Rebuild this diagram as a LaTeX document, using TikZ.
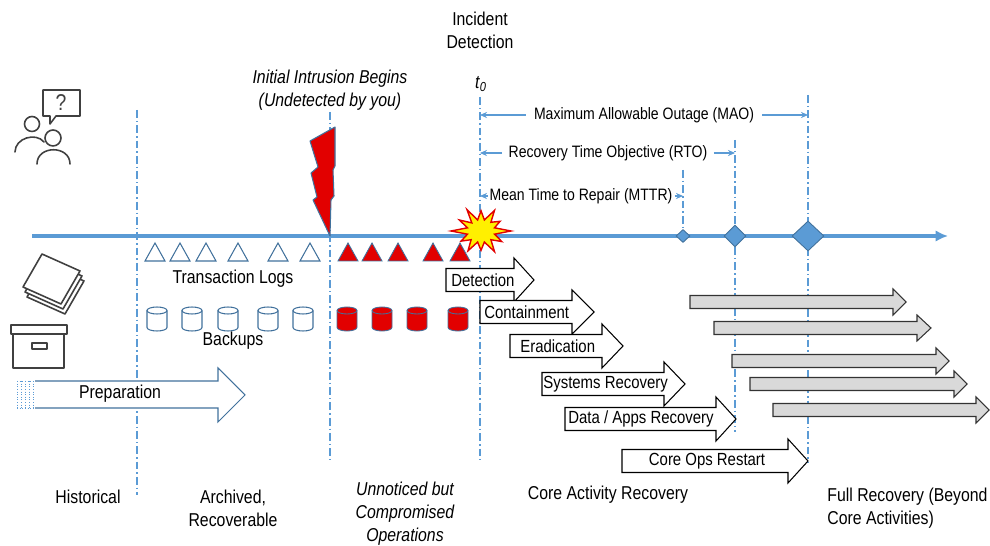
\documentclass[tikz,border=0pt]{standalone}
\usepackage{fontspec}
\setmainfont{Liberation Sans}[FakeStretch=0.85]
\usetikzlibrary{positioning,arrows.meta,shapes.geometric}

\definecolor{lineblue}{RGB}{91,155,213}
\definecolor{darkblue}{RGB}{65,113,156}
\definecolor{alertred}{RGB}{226,0,0}
\definecolor{burstyellow}{RGB}{255,240,0}
\definecolor{laterfill}{RGB}{217,217,217}
\definecolor{icongrey}{RGB}{64,64,64}

\tikzset{
	lbl/.style={font=\fontsize{10.6}{13}\selectfont, align=center, inner sep=0pt},
	spanlbl/.style={font=\fontsize{9.4}{11}\selectfont, inner ysep=0pt, inner xsep=4.5pt},
	steplbl/.style={font=\fontsize{10}{12}\selectfont, inner sep=0pt, anchor=west},
	guide/.style={lineblue, line width=0.7pt, dash pattern=on 4.5pt off 1.7pt on 0.8pt off 1.7pt},
	span/.style={lineblue, line width=0.6pt, -{Stealth[length=4pt,width=3.5pt]}},
	phase/.style={draw=black, fill=white, line width=0.6pt},
	later/.style={draw=black!80, fill=laterfill, line width=0.6pt},
	icon/.style={draw=icongrey, line width=0.9pt, line join=round, line cap=round},
	milestone/.style={diamond, draw=darkblue, fill=lineblue, line width=0.5pt, inner sep=0pt},
	logok/.style={draw=darkblue, fill=white, line width=0.6pt},
	logbad/.style={draw=darkblue, fill=alertred, line width=0.5pt},
}

% block arrow: [style]{left}{head}{tip}{y}{body half}{head half}
\newcommand{\blockarrow}[7][phase]{%
	\draw[#1] (#2,#5-#6) -- (#3,#5-#6) -- (#3,#5-#7) -- (#4,#5) -- (#3,#5+#7) -- (#3,#5+#6) -- (#2,#5+#6) -- cycle;}

% backup drum centred on x
\newcommand{\drum}[2]{%
	\filldraw[#2] (#1-10,310.5) -- (#1-10,327.5) arc[start angle=180,end angle=360,x radius=0.2cm,y radius=0.07cm] -- (#1+10,310.5) arc[start angle=0,end angle=180,x radius=0.2cm,y radius=0.07cm] -- cycle;
	\draw[#2, fill=none] (#1-10,310.5) arc[start angle=180,end angle=360,x radius=0.2cm,y radius=0.07cm];}

\begin{document}
\begin{tikzpicture}[x=0.02cm, y=-0.02cm]
	\useasboundingbox (0,0) rectangle (990,546);

	% guide lines
	\coordinate (g0) at (480,97);
	\coordinate (gmttr) at (683,170);
	\coordinate (grto) at (735,140);
	\coordinate (gmao) at (808,95);
	\draw[guide] (137,110) -- (137,495);
	\draw[guide] (330,112) -- (330,460);
	\draw[guide] (g0) -- (480,460);
	\draw[guide] (gmttr) -- (683,236);
	\draw[guide] (grto) -- (735,432);
	\draw[guide] (gmao) -- (808,462);

	% time line
	\coordinate (tstart) at (32,236);
	\coordinate (tend) at (948,236);
	\draw[lineblue, line width=2.2pt, -{Latex[length=7pt,width=6.5pt]}] (tstart) -- (tend);

	% intrusion bolt
	\filldraw[fill=alertred, draw=darkblue, line width=0.6pt, line join=round]
		(335,127) -- (310,141) -- (318,167) -- (311,173) -- (317,197) -- (313,200) -- (330,236)
		-- (331,200) -- (334,196) -- (333,170) -- (335,166) -- cycle;

	% detection burst
	\begin{scope}[shift={(481,231)}, yscale=0.88]
	\filldraw[fill=burstyellow, draw=alertred, line width=0.8pt, line join=miter]
		(0:30) -- (15:14) -- (30:24) -- (45:14) -- (60:27) -- (75:13) -- (90:22) -- (105:13)
		-- (120:26) -- (135:14) -- (150:23) -- (165:14) -- (180:30) -- (195:14) -- (210:25)
		-- (225:13) -- (240:28) -- (255:13) -- (270:23) -- (285:13) -- (300:27) -- (315:14)
		-- (330:22) -- (345:14) -- cycle;
	\end{scope}

	% milestones
	\node[milestone, minimum width=0.28cm, minimum height=0.26cm] (mttr) at (683,236) {};
	\node[milestone, minimum width=0.44cm, minimum height=0.44cm] (rto) at (735,236) {};
	\node[milestone, minimum width=0.64cm, minimum height=0.6cm] (mao) at (808,236) {};

	% outage spans
	\node[spanlbl] (maolbl) at (644,115) {Maximum Allowable Outage (MAO)};
	\node[spanlbl, inner xsep=3.5pt] (rtolbl) at (608,153) {Recovery Time Objective (RTO)};
	\node[spanlbl, inner xsep=1pt] (mttrlbl) at (581,196) {Mean Time to Repair (MTTR)};
	\draw[span] (maolbl.west) -- (maolbl.west -| g0);
	\draw[span] (maolbl.east) -- (maolbl.east -| gmao);
	\draw[span] (rtolbl.west) -- (rtolbl.west -| g0);
	\draw[span] (rtolbl.east) -- (rtolbl.east -| grto);
	\draw[span] (mttrlbl.west) -- (mttrlbl.west -| g0);
	\draw[span] (mttrlbl.east) -- (mttrlbl.east -| gmttr);

	% transaction logs and backups
	\foreach \x in {155,180,206,238,278,310}
		\draw[logok] (\x-10,261) -- (\x,243) -- (\x+10,261) -- cycle;
	\foreach \x in {348,372,398,433,460}
		\draw[logbad] (\x-10,261) -- (\x,243) -- (\x+10,261) -- cycle;
	\foreach \x in {157,192,228,268,303} {\drum{\x}{logok}}
	\foreach \x in {347,382,417,458} {\drum{\x}{logbad}}
	\node[lbl] (logs) at (233,279) {Transaction Logs};
	\node[lbl] (backups) at (233,341) {Backups};

	% preparation
	\fill[white] (17,381) rectangle (218,408);
	\draw[darkblue, line width=0.6pt, fill=white] (35,381) -- (218,381) -- (218,368) -- (245,395) -- (218,422) -- (218,408) -- (35,408);
	\foreach \x in {17,21,25,29,33}
		\draw[lineblue, line width=0.5pt, densely dotted] (\x,381) -- (\x,408);
	\draw[lineblue, line width=0.5pt, densely dotted] (17,381) -- (35,381) (17,408) -- (35,408);
	\node[lbl] (prep) at (120,394) {Preparation};

	% response phases
	\blockarrow{446}{514}{534}{280}{11.5}{22}
	\blockarrow{480}{572}{594}{312}{11.5}{22}
	\blockarrow{510}{602}{623}{346}{11.5}{22}
	\blockarrow{542}{664}{685}{384}{11.5}{22}
	\blockarrow{565}{716}{736}{419}{11.5}{22}
	\blockarrow{622}{788}{808}{461}{11.5}{22}
	\node[steplbl] (detect) at (451,280) {Detection};
	\node[steplbl] (contain) at (484,312) {Containment};
	\node[steplbl] (erad) at (520,346) {Eradication};
	\node[steplbl] (sysrec) at (543,384) {Systems Recovery};
	\node[steplbl] (datarec) at (568,419) {Data / Apps Recovery};
	\node[steplbl, anchor=center] (coreops) at (707,461) {Core Ops Restart};

	% full recovery work
	\blockarrow[later]{690}{893}{906}{302}{6.5}{13}
	\blockarrow[later]{714}{917}{931}{328}{6.5}{13}
	\blockarrow[later]{732}{936}{949}{361}{6.5}{13}
	\blockarrow[later]{750}{954}{967}{384}{6.5}{13}
	\blockarrow[later]{773}{976}{989}{410}{6.5}{13}

	% people icon
	\draw[icon] (43,90) -- (80,90) -- (80,116) -- (56,116) -- (50,124) -- (50,116) -- (43,116) -- cycle;
	\node[font=\fontsize{13}{13}\selectfont, text=icongrey, inner sep=0pt] (ask) at (61,103) {?};
	\draw[icon] (32,124) circle[radius=0.15cm];
	\draw[icon] (15,152) .. controls (15,138) and (36,132) .. (44,142);
	\draw[icon, fill=white] (53,138) circle[radius=0.16cm];
	\draw[icon] (37,164) .. controls (37,145) and (70,145) .. (70,164);

	% paper stack
	\foreach \d in {4,2,0}
		\draw[icon, fill=white] (23+\d,287+2.5*\d) -- (42+\d,254+2.5*\d) -- (80+\d,271+2.5*\d) -- (61+\d,304+2.5*\d) -- cycle;

	% archive box
	\draw[icon, fill=white] (13,334) rectangle (64,368);
	\draw[icon, fill=white] (11,325) rectangle (67,334);
	\draw[icon] (32,343) rectangle (47,349);

	% headings
	\node[lbl] (incident) at (480,30) {Incident\\Detection};
	\node[lbl] (tzero) at (481,84) {\textit{t}\textsubscript{\textit{0}}};
	\node[lbl, font=\fontsize{10.6}{13}\selectfont\itshape] (intrusion) at (330,90) {Initial Intrusion Begins\\(Undetected by you)};

	% periods
	\node[lbl] (hist) at (88,497) {Historical};
	\node[lbl] (arch) at (233,508.5) {Archived,\\Recoverable};
	\node[lbl, font=\fontsize{10.6}{13}\selectfont\itshape] (unnoticed) at (405,514) {Unnoticed but\\Compromised\\Operations};
	\node[lbl] (corerec) at (608,495) {Core Activity Recovery};
	\node[lbl, align=left, anchor=west] (fullrec) at (827,508.5) {Full Recovery (Beyond\\Core Activities)};
\end{tikzpicture}
\end{document}
